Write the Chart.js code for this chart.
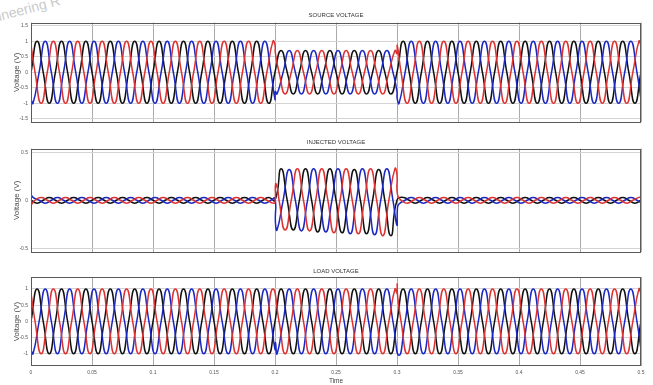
<!DOCTYPE html>
<html><head><meta charset="utf-8">
<script src="https://cdn.jsdelivr.net/npm/chart.js@4.4.1/dist/chart.umd.min.js"></script>
<style>
html,body{margin:0;padding:0;background:#fff;width:653px;height:385px;overflow:hidden;position:relative;}
.box{position:absolute;left:0;width:653px;}
canvas{display:block;}
#wm{position:absolute;left:-28px;top:15px;font:14px "Liberation Sans",Arial,sans-serif;color:#cacaca;transform:rotate(-15deg);transform-origin:left top;white-space:nowrap;}
</style></head><body>
<div id="wm">Engineering R</div>
<div class="box" style="top:0;height:128px"><canvas id="c1" width="653" height="128"></canvas></div>
<div class="box" style="top:128px;height:130px"><canvas id="c2" width="653" height="130"></canvas></div>
<div class="box" style="top:258px;height:127px"><canvas id="c3" width="653" height="127"></canvas></div>
<script>
// ---- time axis ----
const timeTicks = [0,0.05,0.1,0.15,0.2,0.25,0.3,0.35,0.4,0.45,0.5];
const timeTickLabels = ["0","0.05","0.1","0.15","0.2","0.25","0.3","0.35","0.4","0.45","0.5"];
const halfCycle = 0.01;            // 50 Hz supply, one extreme every 10 ms
const blackFirstExtreme = 0.005;   // time of first extreme of each phase
const blueFirstExtreme = 0.00167;
const redFirstExtreme = 0.00833;

// ---- SOURCE VOLTAGE: half-cycle extremes (black, blue, red) ----
const srcBlack = [1,-1,1,-1,1,-1,1,-1,1,-1,1,-1,1,-1,1,-1,1,-1,1,-1,
  0.7,-0.7,0.7,-0.7,0.7,-0.7,0.7,-0.7,0.7,-0.7,
  1,-1,1,-1,1,-1,1,-1,1,-1,1,-1,1,-1,1,-1,1,-1,1,-1];
const srcBlue = [-1,1,-1,1,-1,1,-1,1,-1,1,-1,1,-1,1,-1,1,-1,1,-1,1,
  -0.7,0.7,-0.7,0.7,-0.7,0.7,-0.7,0.7,-0.7,0.7,
  -1,1,-1,1,-1,1,-1,1,-1,1,-1,1,-1,1,-1,1,-1,1,-1,1];
const srcRed = [-1,1,-1,1,-1,1,-1,1,-1,1,-1,1,-1,1,-1,1,-1,1,-1,1,
  -0.7,0.7,-0.7,0.7,-0.7,0.7,-0.7,0.7,-0.7,0.7,
  -1,1,-1,1,-1,1,-1,1,-1,1,-1,1,-1,1,-1,1,-1,1,-1,1];
const srcStart = [0,-0.87,0.87];
const srcEnd = [0,-0.87,0.87];
const srcBlueExtra = [[0.2,-0.87],[0.2003,-0.62],[0.2999,-0.6],[0.3002,-0.86]];
const srcRedExtra = [[0.2,0.87],[0.2003,0.62],[0.2999,0.6],[0.3002,0.86]];

// ---- INJECTED VOLTAGE ----
const injBlack = [-0.03,0.03,-0.03,0.03,-0.03,0.03,-0.03,0.03,-0.03,0.03,-0.03,0.03,-0.03,0.03,-0.03,0.03,-0.03,0.03,-0.03,0.03,
  0.33,-0.31,0.33,-0.33,0.33,-0.34,0.32,-0.35,0.32,-0.37,
  0.03,-0.03,0.03,-0.03,0.03,-0.03,0.03,-0.03,0.03,-0.03,0.03,-0.03,0.03,-0.03,0.03,-0.03,0.03,-0.03,0.03,-0.03];
const injBlue = [0.03,-0.03,0.03,-0.03,0.03,-0.03,0.03,-0.03,0.03,-0.03,0.03,-0.03,0.03,-0.03,0.03,-0.03,0.03,-0.03,0.03,-0.03,
  -0.31,0.32,-0.32,0.33,-0.33,0.33,-0.35,0.33,-0.36,0.33,
  -0.04,0.03,-0.03,0.03,-0.03,0.03,-0.03,0.03,-0.03,0.03,-0.03,0.03,-0.03,0.03,-0.03,0.03,-0.03,0.03,-0.03,0.03];
const injRed = [0.03,-0.03,0.03,-0.03,0.03,-0.03,0.03,-0.03,0.03,-0.03,0.03,-0.03,0.03,-0.03,0.03,-0.03,0.03,-0.03,0.03,-0.03,
  -0.31,0.33,-0.32,0.33,-0.34,0.33,-0.35,0.33,-0.37,0.33,
  -0.03,0.03,-0.03,0.03,-0.03,0.03,-0.03,0.03,-0.03,0.03,-0.03,0.03,-0.03,0.03,-0.03,0.03,-0.03,0.03,-0.03,0.03];
const injStart = [0,0.06,-0.05];
const injEnd = [0,-0.026,0.026];
const injBlueExtra = [[0.2,0.02],[0.2004,-0.24],[0.2999,-0.26],[0.3004,-0.08]];
const injRedExtra = [[0.2,-0.02],[0.2005,0.17],[0.2022,0.11],[0.2999,0.27],[0.3004,0.06]];

// ---- LOAD VOLTAGE ----
const ldBlack = [1,-1,1,-1,1,-1,1,-1,1,-1,1,-1,1,-1,1,-1,1,-1,1,-1,
  1,-1,1,-1,1,-1,1,-1,1,-1,
  1,-1,1,-1,1,-1,1,-1,1,-1,1,-1,1,-1,1,-1,1,-1,1,-1];
const ldBlue = [-1,1,-1,1,-1,1,-1,1,-1,1,-1,1,-1,1,-1,1,-1,1,-1,1,
  -1,1,-1,1,-1,1,-1,1,-1,1,
  -1.05,1,-1,1,-1,1,-1,1,-1,1,-1,1,-1,1,-1,1,-1,1,-1,1];
const ldRed = [-1,1,-1,1,-1,1,-1,1,-1,1,-1,1,-1,1,-1,1,-1,1,-1,1,
  -1,1,-1,1,-1,1,-1,1,-1,1,
  -1,1,-1,1,-1,1,-1,1,-1,1,-1,1,-1,1,-1,1,-1,1,-1,1];
const ldStart = [0,-0.9,0.87];
const ldEnd = [0,-0.87,0.87];
const ldBlueExtra = [[0.2,-0.87],[0.2004,-0.66]];
const ldRedExtra = [[0.2999,0.88],[0.3001,1.15],[0.3005,0.78]];

// ---- y ticks ----
const srcYTicks = [-1.5,-1,-0.5,0,0.5,1,1.5];
const srcYLabels = ["-1.5","-1","-0.5","0","0.5","1","1.5"];
const injYTicks = [-0.5,0,0.5];
const injYLabels = ["-0.5","0","0.5"];
const ldYTicks = [-1,-0.5,0,0.5,1];
const ldYLabels = ["-1","-0.5","0","0.5","1"];

const FONT = '"Liberation Sans", Arial, sans-serif';
const COL_BLACK = '#111111', COL_BLUE = '#1c28c0', COL_RED = '#dc3232';

function buildSeries(firstT, extremes, startV, endV, extra) {
  const pts = [{x:0, y:startV}];
  extremes.forEach((v, k) => {
    const t = firstT + k*halfCycle;
    const tz = t - halfCycle/2;
    if (tz > 1e-6) pts.push({x:tz, y:0});
    pts.push({x:t, y:v});
  });
  const tl = firstT + (extremes.length-1)*halfCycle + halfCycle/2;
  if (tl < 0.5 - 1e-6) pts.push({x:tl, y:0});
  pts.push({x:0.5, y:endV});
  (extra || []).forEach(([t,v]) => pts.push({x:t, y:v}));
  pts.sort((a,b) => a.x - b.x);
  return pts;
}

const framePlugin = {
  id: 'frame',
  afterDraw(chart) {
    const {ctx, chartArea:a} = chart;
    ctx.save();
    ctx.strokeStyle = '#5a5a5a';
    ctx.lineWidth = 1;
    ctx.strokeRect(Math.round(a.left)+0.5, Math.round(a.top)+0.5, Math.round(a.right-a.left)-1, Math.round(a.bottom-a.top)-1);
    ctx.restore();
  }
};

function makeChart(id, cfg) {
  const ds = (data, color) => ({data, borderColor: color, borderWidth: 1.5, pointRadius: 0, tension: 0.55, fill: false});
  new Chart(document.getElementById(id), {
    type: 'line',
    data: { datasets: [
      ds(buildSeries(redFirstExtreme, cfg.red, cfg.start[2], cfg.end[2], cfg.redExtra), COL_RED),
      ds(buildSeries(blueFirstExtreme, cfg.blue, cfg.start[1], cfg.end[1], cfg.blueExtra), COL_BLUE),
      ds(buildSeries(blackFirstExtreme, cfg.black, cfg.start[0], cfg.end[0], cfg.blackExtra), COL_BLACK)
    ]},
    options: {
      responsive: false, animation: false, devicePixelRatio: 1,
      layout: { padding: { left: 0, right: 12, top: 0, bottom: cfg.padBottom } },
      plugins: {
        legend: { display: false }, tooltip: { enabled: false },
        title: { display: true, text: cfg.title, fullSize: false, color: '#333',
          font: { family: FONT, size: 6, weight: 'normal', lineHeight: 1.2 },
          padding: { top: cfg.titleTop, bottom: cfg.titleBottom } }
      },
      scales: {
        x: {
          type: 'linear', min: 0, max: 0.5,
          afterBuildTicks: s => { s.ticks = timeTicks.map(v => ({value: v})); },
          ticks: { display: cfg.showX, autoSkip: false, maxRotation: 0, padding: 4, color: '#555',
            font: { family: FONT, size: 5 }, callback: (v, i) => timeTickLabels[i] },
          grid: { color: '#aaaaaa', drawTicks: false, lineWidth: 1 },
          border: { display: false },
          title: { display: cfg.showX, text: 'Time', color: '#444', font: { family: FONT, size: 6.5 }, padding: { top: 0, bottom: 0 } },
          afterFit: s => { s.height = cfg.xHeight; }
        },
        y: {
          min: cfg.yMin, max: cfg.yMax,
          afterBuildTicks: s => { s.ticks = cfg.yTicks.map(v => ({value: v})); },
          ticks: { padding: 3, color: '#555', font: { family: FONT, size: 5 }, callback: (v, i) => cfg.yLabels[i] },
          grid: { color: '#d4d4d4', drawTicks: false, lineWidth: 1 },
          border: { display: false },
          title: { display: true, text: 'Voltage (V)', color: '#4a4a4a', font: { family: FONT, size: 8 }, padding: { top: 12.2, bottom: 0 } },
          afterFit: s => { s.width = 31; }
        }
      }
    },
    plugins: [framePlugin]
  });
}

makeChart('c1', { title: 'SOURCE VOLTAGE', black: srcBlack, blue: srcBlue, red: srcRed,
  start: srcStart, end: srcEnd, blueExtra: srcBlueExtra, redExtra: srcRedExtra,
  yMin: -1.6, yMax: 1.6, yTicks: srcYTicks, yLabels: srcYLabels,
  titleTop: 11.9, titleBottom: 3.4, padBottom: 1.5, showX: false, xHeight: 0 });
makeChart('c2', { title: 'INJECTED VOLTAGE', black: injBlack, blue: injBlue, red: injRed,
  start: injStart, end: injEnd, blueExtra: injBlueExtra, redExtra: injRedExtra,
  yMin: -0.54, yMax: 0.54, yTicks: injYTicks, yLabels: injYLabels,
  titleTop: 10.4, titleBottom: 2.9, padBottom: 3, showX: false, xHeight: 0 });
makeChart('c3', { title: 'LOAD VOLTAGE', black: ldBlack, blue: ldBlue, red: ldRed,
  start: ldStart, end: ldEnd, blueExtra: ldBlueExtra, redExtra: ldRedExtra,
  yMin: -1.38, yMax: 1.37, yTicks: ldYTicks, yLabels: ldYLabels,
  titleTop: 9.4, titleBottom: 2.4, padBottom: 0, showX: true, xHeight: 19 });
</script>
</body></html>
